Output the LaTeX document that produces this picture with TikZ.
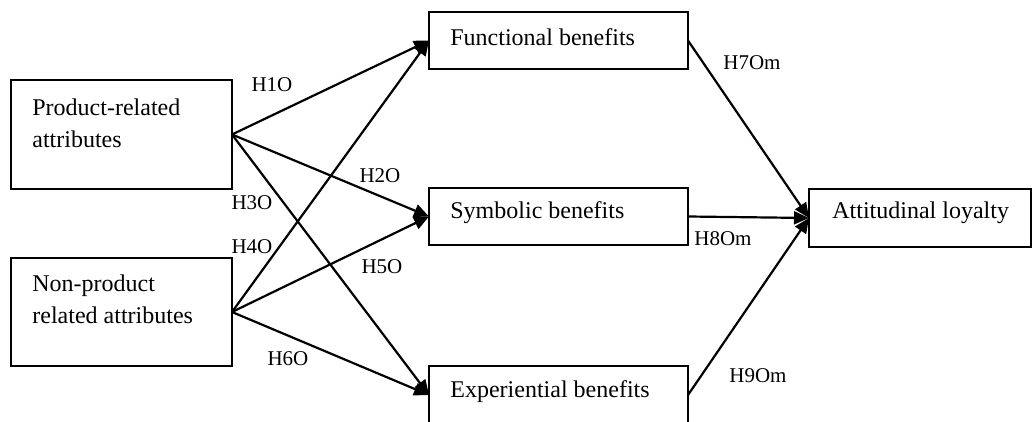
\documentclass[tikz,border=0pt]{standalone}
\usepackage{fontspec}
\setmainfont{Liberation Serif}
\usetikzlibrary{arrows.meta}

\tikzset{
  box/.style={draw, line width=0.9pt, rectangle, inner sep=0pt, outer sep=0pt},
  boxtext/.style={anchor=west, inner sep=0pt, align=left,
    font=\fontsize{12}{16}\selectfont},
  link/.style={line width=1.1pt, -{Triangle[length=7.5pt,width=6.5pt]}},
  hyp/.style={inner sep=0pt, font=\fontsize{10.5}{12}\selectfont}
}

\begin{document}
\begin{tikzpicture}[x=0.5pt, y=-0.5pt]
  \useasboundingbox (0,0) rectangle (1035,422);

  % antecedent boxes
  \node[box, minimum width=110.5pt, minimum height=54.5pt] (prod) at (121.5,134.5) {};
  \node[box, minimum width=110.5pt, minimum height=54pt] (nonprod) at (121.5,312) {};
  \node[boxtext] (prodtxt) at (32,123) {Product-related\\attributes};
  \node[boxtext] (nonprodtxt) at (32,299) {Non-product\\related attributes};

  % benefit boxes
  \node[box, minimum width=129.5pt, minimum height=28.5pt] (func) at (558.5,40.5) {};
  \node[box, minimum width=129.5pt, minimum height=28.5pt] (sym) at (558.5,216.5) {};
  \node[box, minimum width=129.5pt, minimum height=29pt] (exp) at (558.5,395) {};
  \node[boxtext] (functxt) at (450,37) {Functional benefits};
  \node[boxtext] (symtxt) at (450,213) {Symbolic benefits};
  \node[boxtext] (exptxt) at (450,392) {Experiential benefits};

  % outcome box
  \node[box, minimum width=111pt, minimum height=29pt] (att) at (920,218) {};
  \node[boxtext] (atttxt) at (832,213) {Attitudinal loyalty};

  % hypothesised paths
  \draw[link] (prod.east) -- (func.west);
  \draw[link] (prod.east) -- (sym.west);
  \draw[link] (prod.east) -- (exp.west);
  \draw[link] (nonprod.east) -- (func.west);
  \draw[link] (nonprod.east) -- (sym.west);
  \draw[link] (nonprod.east) -- (exp.west);
  \draw[link] (func.east) -- (att.west);
  \draw[link] (sym.east) -- (att.west);
  \draw[link] (exp.east) -- (att.west);

  % path labels
  \node[hyp] (h1) at (272,85) {H1O};
  \node[hyp] (h2) at (380,176) {H2O};
  \node[hyp] (h3) at (252,203) {H3O};
  \node[hyp] (h4) at (252,247) {H4O};
  \node[hyp] (h5) at (382,267) {H5O};
  \node[hyp] (h6) at (288,359) {H6O};
  \node[hyp] (h7) at (752,63) {H7Om};
  \node[hyp] (h8) at (723,239) {H8Om};
  \node[hyp] (h9) at (758,376) {H9Om};
\end{tikzpicture}
\end{document}
